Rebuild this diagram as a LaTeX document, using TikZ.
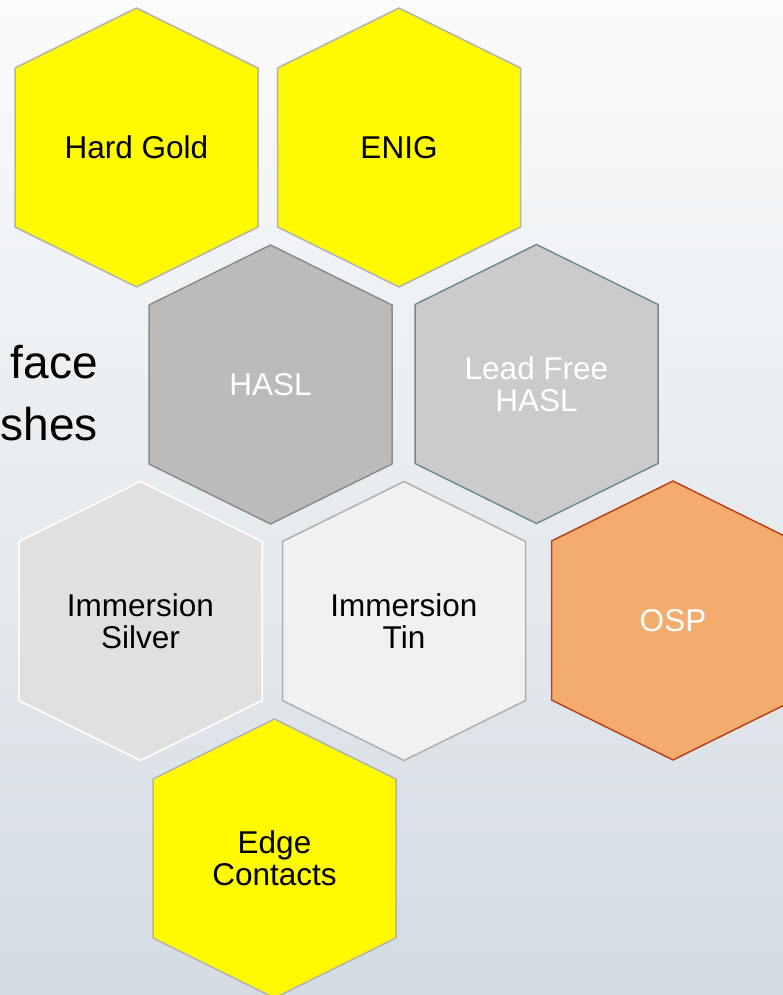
\documentclass[tikz,border=0pt]{standalone}
\usepackage{fontspec}
\setmainfont{Liberation Sans}
\definecolor{hexyellow}{RGB}{255,250,0}
\definecolor{yellowline}{RGB}{178,178,178}
\definecolor{haslfill}{RGB}{187,187,187}
\definecolor{haslline}{RGB}{140,140,140}
\definecolor{lffill}{RGB}{203,203,203}
\definecolor{lfline}{RGB}{112,138,143}
\definecolor{silverfill}{RGB}{224,224,224}
\definecolor{tinfill}{RGB}{240,241,242}
\definecolor{tinline}{RGB}{176,176,176}
\definecolor{ospfill}{RGB}{244,172,110}
\definecolor{ospline}{RGB}{184,68,28}
\definecolor{bgtop}{RGB}{250,251,252}
\definecolor{bgmid}{RGB}{232,237,238}
\definecolor{bgbot}{RGB}{212,220,226}
\newcommand\hexcell[6]{% name, cx, cy, hex style, text colour, text
  \draw[#4,shift={(#2,#3)}] (-121.5,-79.5) -- (0,-139.5) -- (121.5,-79.5)
    -- (121.5,79.5) -- (0,139.5) -- (-121.5,79.5) -- cycle;
  \node[hextext,text=#5] (#1) at (#2,#3) {#6};
}
\begin{document}
\begin{tikzpicture}[x=1pt,y=-1pt,
  hextext/.style={align=center,font=\fontsize{31.5}{32}\selectfont,inner sep=0pt},
  yellowhex/.style={fill=hexyellow,draw=yellowline,line width=1.5pt},
  haslhex/.style={fill=haslfill,draw=haslline,line width=1.5pt},
  lfhex/.style={fill=lffill,draw=lfline,line width=1.5pt},
  silverhex/.style={fill=silverfill,draw=white,line width=1.5pt},
  tinhex/.style={fill=tinfill,draw=tinline,line width=1.5pt},
  osphex/.style={fill=ospfill,draw=ospline,line width=1.5pt},
  titletext/.style={font=\fontsize{46}{62}\selectfont,inner sep=0pt,anchor=base east}]
\useasboundingbox (0,0) rectangle (783,995);
\clip (0,0) rectangle (783,995);
\shade[top color=bgtop,middle color=bgmid,bottom color=bgbot] (0,0) rectangle (783,995);
\node[titletext] (t1) at (98,378) {face};
\node[titletext] (t2) at (98,440) {shes};
\hexcell{hard}{136.5}{147.5}{yellowhex}{black}{Hard Gold}
\hexcell{enig}{399}{147.5}{yellowhex}{black}{ENIG}
\hexcell{hasl}{270.5}{384.5}{haslhex}{white}{HASL}
\hexcell{lfhasl}{536.5}{384}{lfhex}{white}{Lead Free\\HASL}
\hexcell{silver}{140.5}{621}{silverhex}{black}{Immersion\\Silver}
\hexcell{tin}{404}{621}{tinhex}{black}{Immersion\\Tin}
\hexcell{osp}{673}{620.5}{osphex}{white}{OSP}
\hexcell{edge}{274.5}{858.5}{yellowhex}{black}{Edge\\Contacts}
\end{tikzpicture}
\end{document}
